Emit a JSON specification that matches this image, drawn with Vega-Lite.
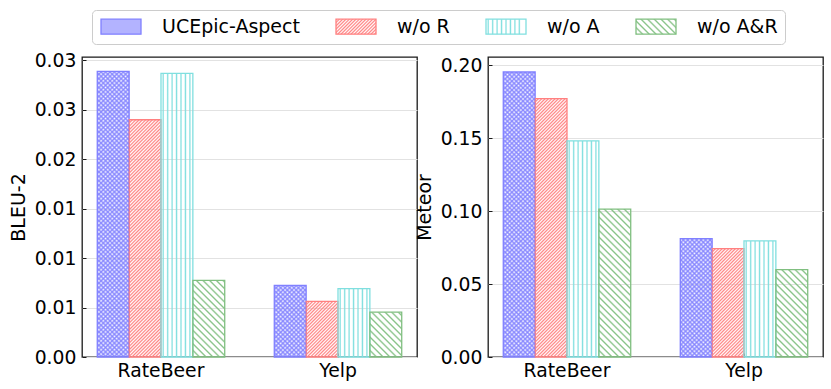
{
"$schema": "https://vega.github.io/schema/vega-lite/v6.json",
"background": "white",
"padding": {"left": 8, "top": 9, "right": 4, "bottom": 4},
"params": [
{"name": "redStops", "value": [
{"offset":0,"color":"#ff8080"},{"offset":0.005,"color":"#ff808000"},{"offset":0.01,"color":"#ff8080"},{"offset":0.015,"color":"#ff808000"},{"offset":0.02,"color":"#ff8080"},{"offset":0.025,"color":"#ff808000"},{"offset":0.03,"color":"#ff8080"},{"offset":0.035,"color":"#ff808000"},{"offset":0.04,"color":"#ff8080"},{"offset":0.045,"color":"#ff808000"},
{"offset":0.05,"color":"#ff8080"},{"offset":0.055,"color":"#ff808000"},{"offset":0.06,"color":"#ff8080"},{"offset":0.065,"color":"#ff808000"},{"offset":0.07,"color":"#ff8080"},{"offset":0.075,"color":"#ff808000"},{"offset":0.08,"color":"#ff8080"},{"offset":0.085,"color":"#ff808000"},{"offset":0.09,"color":"#ff8080"},{"offset":0.095,"color":"#ff808000"},
{"offset":0.1,"color":"#ff8080"},{"offset":0.105,"color":"#ff808000"},{"offset":0.11,"color":"#ff8080"},{"offset":0.115,"color":"#ff808000"},{"offset":0.12,"color":"#ff8080"},{"offset":0.125,"color":"#ff808000"},{"offset":0.13,"color":"#ff8080"},{"offset":0.135,"color":"#ff808000"},{"offset":0.14,"color":"#ff8080"},{"offset":0.145,"color":"#ff808000"},
{"offset":0.15,"color":"#ff8080"},{"offset":0.155,"color":"#ff808000"},{"offset":0.16,"color":"#ff8080"},{"offset":0.165,"color":"#ff808000"},{"offset":0.17,"color":"#ff8080"},{"offset":0.175,"color":"#ff808000"},{"offset":0.18,"color":"#ff8080"},{"offset":0.185,"color":"#ff808000"},{"offset":0.19,"color":"#ff8080"},{"offset":0.195,"color":"#ff808000"},
{"offset":0.2,"color":"#ff8080"},{"offset":0.205,"color":"#ff808000"},{"offset":0.21,"color":"#ff8080"},{"offset":0.215,"color":"#ff808000"},{"offset":0.22,"color":"#ff8080"},{"offset":0.225,"color":"#ff808000"},{"offset":0.23,"color":"#ff8080"},{"offset":0.235,"color":"#ff808000"},{"offset":0.24,"color":"#ff8080"},{"offset":0.245,"color":"#ff808000"},
{"offset":0.25,"color":"#ff8080"},{"offset":0.255,"color":"#ff808000"},{"offset":0.26,"color":"#ff8080"},{"offset":0.265,"color":"#ff808000"},{"offset":0.27,"color":"#ff8080"},{"offset":0.275,"color":"#ff808000"},{"offset":0.28,"color":"#ff8080"},{"offset":0.285,"color":"#ff808000"},{"offset":0.29,"color":"#ff8080"},{"offset":0.295,"color":"#ff808000"},
{"offset":0.3,"color":"#ff8080"},{"offset":0.305,"color":"#ff808000"},{"offset":0.31,"color":"#ff8080"},{"offset":0.315,"color":"#ff808000"},{"offset":0.32,"color":"#ff8080"},{"offset":0.325,"color":"#ff808000"},{"offset":0.33,"color":"#ff8080"},{"offset":0.335,"color":"#ff808000"},{"offset":0.34,"color":"#ff8080"},{"offset":0.345,"color":"#ff808000"},
{"offset":0.35,"color":"#ff8080"},{"offset":0.355,"color":"#ff808000"},{"offset":0.36,"color":"#ff8080"},{"offset":0.365,"color":"#ff808000"},{"offset":0.37,"color":"#ff8080"},{"offset":0.375,"color":"#ff808000"},{"offset":0.38,"color":"#ff8080"},{"offset":0.385,"color":"#ff808000"},{"offset":0.39,"color":"#ff8080"},{"offset":0.395,"color":"#ff808000"},
{"offset":0.4,"color":"#ff8080"},{"offset":0.405,"color":"#ff808000"},{"offset":0.41,"color":"#ff8080"},{"offset":0.415,"color":"#ff808000"},{"offset":0.42,"color":"#ff8080"},{"offset":0.425,"color":"#ff808000"},{"offset":0.43,"color":"#ff8080"},{"offset":0.435,"color":"#ff808000"},{"offset":0.44,"color":"#ff8080"},{"offset":0.445,"color":"#ff808000"},
{"offset":0.45,"color":"#ff8080"},{"offset":0.455,"color":"#ff808000"},{"offset":0.46,"color":"#ff8080"},{"offset":0.465,"color":"#ff808000"},{"offset":0.47,"color":"#ff8080"},{"offset":0.475,"color":"#ff808000"},{"offset":0.48,"color":"#ff8080"},{"offset":0.485,"color":"#ff808000"},{"offset":0.49,"color":"#ff8080"},{"offset":0.495,"color":"#ff808000"},
{"offset":0.5,"color":"#ff8080"},{"offset":0.505,"color":"#ff808000"},{"offset":0.51,"color":"#ff8080"},{"offset":0.515,"color":"#ff808000"},{"offset":0.52,"color":"#ff8080"},{"offset":0.525,"color":"#ff808000"},{"offset":0.53,"color":"#ff8080"},{"offset":0.535,"color":"#ff808000"},{"offset":0.54,"color":"#ff8080"},{"offset":0.545,"color":"#ff808000"},
{"offset":0.55,"color":"#ff8080"},{"offset":0.555,"color":"#ff808000"},{"offset":0.56,"color":"#ff8080"},{"offset":0.565,"color":"#ff808000"},{"offset":0.57,"color":"#ff8080"},{"offset":0.575,"color":"#ff808000"},{"offset":0.58,"color":"#ff8080"},{"offset":0.585,"color":"#ff808000"},{"offset":0.59,"color":"#ff8080"},{"offset":0.595,"color":"#ff808000"},
{"offset":0.6,"color":"#ff8080"},{"offset":0.605,"color":"#ff808000"},{"offset":0.61,"color":"#ff8080"},{"offset":0.615,"color":"#ff808000"},{"offset":0.62,"color":"#ff8080"},{"offset":0.625,"color":"#ff808000"},{"offset":0.63,"color":"#ff8080"},{"offset":0.635,"color":"#ff808000"},{"offset":0.64,"color":"#ff8080"},{"offset":0.645,"color":"#ff808000"},
{"offset":0.65,"color":"#ff8080"},{"offset":0.655,"color":"#ff808000"},{"offset":0.66,"color":"#ff8080"},{"offset":0.665,"color":"#ff808000"},{"offset":0.67,"color":"#ff8080"},{"offset":0.675,"color":"#ff808000"},{"offset":0.68,"color":"#ff8080"},{"offset":0.685,"color":"#ff808000"},{"offset":0.69,"color":"#ff8080"},{"offset":0.695,"color":"#ff808000"},
{"offset":0.7,"color":"#ff8080"},{"offset":0.705,"color":"#ff808000"},{"offset":0.71,"color":"#ff8080"},{"offset":0.715,"color":"#ff808000"},{"offset":0.72,"color":"#ff8080"},{"offset":0.725,"color":"#ff808000"},{"offset":0.73,"color":"#ff8080"},{"offset":0.735,"color":"#ff808000"},{"offset":0.74,"color":"#ff8080"},{"offset":0.745,"color":"#ff808000"},
{"offset":0.75,"color":"#ff8080"},{"offset":0.755,"color":"#ff808000"},{"offset":0.76,"color":"#ff8080"},{"offset":0.765,"color":"#ff808000"},{"offset":0.77,"color":"#ff8080"},{"offset":0.775,"color":"#ff808000"},{"offset":0.78,"color":"#ff8080"},{"offset":0.785,"color":"#ff808000"},{"offset":0.79,"color":"#ff8080"},{"offset":0.795,"color":"#ff808000"},
{"offset":0.8,"color":"#ff8080"},{"offset":0.805,"color":"#ff808000"},{"offset":0.81,"color":"#ff8080"},{"offset":0.815,"color":"#ff808000"},{"offset":0.82,"color":"#ff8080"},{"offset":0.825,"color":"#ff808000"},{"offset":0.83,"color":"#ff8080"},{"offset":0.835,"color":"#ff808000"},{"offset":0.84,"color":"#ff8080"},{"offset":0.845,"color":"#ff808000"},
{"offset":0.85,"color":"#ff8080"},{"offset":0.855,"color":"#ff808000"},{"offset":0.86,"color":"#ff8080"},{"offset":0.865,"color":"#ff808000"},{"offset":0.87,"color":"#ff8080"},{"offset":0.875,"color":"#ff808000"},{"offset":0.88,"color":"#ff8080"}
]},
{"name": "blueStops", "value": [
{"offset":0,"color":"#8080ffd9"},{"offset":0.005,"color":"#8080ff00"},{"offset":0.01,"color":"#8080ffd9"},{"offset":0.015,"color":"#8080ff00"},{"offset":0.02,"color":"#8080ffd9"},{"offset":0.025,"color":"#8080ff00"},{"offset":0.03,"color":"#8080ffd9"},{"offset":0.035,"color":"#8080ff00"},{"offset":0.04,"color":"#8080ffd9"},{"offset":0.045,"color":"#8080ff00"},
{"offset":0.05,"color":"#8080ffd9"},{"offset":0.055,"color":"#8080ff00"},{"offset":0.06,"color":"#8080ffd9"},{"offset":0.065,"color":"#8080ff00"},{"offset":0.07,"color":"#8080ffd9"},{"offset":0.075,"color":"#8080ff00"},{"offset":0.08,"color":"#8080ffd9"},{"offset":0.085,"color":"#8080ff00"},{"offset":0.09,"color":"#8080ffd9"},{"offset":0.095,"color":"#8080ff00"},
{"offset":0.1,"color":"#8080ffd9"},{"offset":0.105,"color":"#8080ff00"},{"offset":0.11,"color":"#8080ffd9"},{"offset":0.115,"color":"#8080ff00"},{"offset":0.12,"color":"#8080ffd9"},{"offset":0.125,"color":"#8080ff00"},{"offset":0.13,"color":"#8080ffd9"},{"offset":0.135,"color":"#8080ff00"},{"offset":0.14,"color":"#8080ffd9"},{"offset":0.145,"color":"#8080ff00"},
{"offset":0.15,"color":"#8080ffd9"},{"offset":0.155,"color":"#8080ff00"},{"offset":0.16,"color":"#8080ffd9"},{"offset":0.165,"color":"#8080ff00"},{"offset":0.17,"color":"#8080ffd9"},{"offset":0.175,"color":"#8080ff00"},{"offset":0.18,"color":"#8080ffd9"},{"offset":0.185,"color":"#8080ff00"},{"offset":0.19,"color":"#8080ffd9"},{"offset":0.195,"color":"#8080ff00"},
{"offset":0.2,"color":"#8080ffd9"},{"offset":0.205,"color":"#8080ff00"},{"offset":0.21,"color":"#8080ffd9"},{"offset":0.215,"color":"#8080ff00"},{"offset":0.22,"color":"#8080ffd9"},{"offset":0.225,"color":"#8080ff00"},{"offset":0.23,"color":"#8080ffd9"},{"offset":0.235,"color":"#8080ff00"},{"offset":0.24,"color":"#8080ffd9"},{"offset":0.245,"color":"#8080ff00"},
{"offset":0.25,"color":"#8080ffd9"},{"offset":0.255,"color":"#8080ff00"},{"offset":0.26,"color":"#8080ffd9"},{"offset":0.265,"color":"#8080ff00"},{"offset":0.27,"color":"#8080ffd9"},{"offset":0.275,"color":"#8080ff00"},{"offset":0.28,"color":"#8080ffd9"},{"offset":0.285,"color":"#8080ff00"},{"offset":0.29,"color":"#8080ffd9"},{"offset":0.295,"color":"#8080ff00"},
{"offset":0.3,"color":"#8080ffd9"},{"offset":0.305,"color":"#8080ff00"},{"offset":0.31,"color":"#8080ffd9"},{"offset":0.315,"color":"#8080ff00"},{"offset":0.32,"color":"#8080ffd9"},{"offset":0.325,"color":"#8080ff00"},{"offset":0.33,"color":"#8080ffd9"},{"offset":0.335,"color":"#8080ff00"},{"offset":0.34,"color":"#8080ffd9"},{"offset":0.345,"color":"#8080ff00"},
{"offset":0.35,"color":"#8080ffd9"},{"offset":0.355,"color":"#8080ff00"},{"offset":0.36,"color":"#8080ffd9"},{"offset":0.365,"color":"#8080ff00"},{"offset":0.37,"color":"#8080ffd9"},{"offset":0.375,"color":"#8080ff00"},{"offset":0.38,"color":"#8080ffd9"},{"offset":0.385,"color":"#8080ff00"},{"offset":0.39,"color":"#8080ffd9"},{"offset":0.395,"color":"#8080ff00"},
{"offset":0.4,"color":"#8080ffd9"},{"offset":0.405,"color":"#8080ff00"},{"offset":0.41,"color":"#8080ffd9"},{"offset":0.415,"color":"#8080ff00"},{"offset":0.42,"color":"#8080ffd9"},{"offset":0.425,"color":"#8080ff00"},{"offset":0.43,"color":"#8080ffd9"},{"offset":0.435,"color":"#8080ff00"},{"offset":0.44,"color":"#8080ffd9"},{"offset":0.445,"color":"#8080ff00"},
{"offset":0.45,"color":"#8080ffd9"},{"offset":0.455,"color":"#8080ff00"},{"offset":0.46,"color":"#8080ffd9"},{"offset":0.465,"color":"#8080ff00"},{"offset":0.47,"color":"#8080ffd9"},{"offset":0.475,"color":"#8080ff00"},{"offset":0.48,"color":"#8080ffd9"},{"offset":0.485,"color":"#8080ff00"},{"offset":0.49,"color":"#8080ffd9"},{"offset":0.495,"color":"#8080ff00"},
{"offset":0.5,"color":"#8080ffd9"},{"offset":0.505,"color":"#8080ff00"},{"offset":0.51,"color":"#8080ffd9"},{"offset":0.515,"color":"#8080ff00"},{"offset":0.52,"color":"#8080ffd9"},{"offset":0.525,"color":"#8080ff00"},{"offset":0.53,"color":"#8080ffd9"},{"offset":0.535,"color":"#8080ff00"},{"offset":0.54,"color":"#8080ffd9"},{"offset":0.545,"color":"#8080ff00"},
{"offset":0.55,"color":"#8080ffd9"},{"offset":0.555,"color":"#8080ff00"},{"offset":0.56,"color":"#8080ffd9"},{"offset":0.565,"color":"#8080ff00"},{"offset":0.57,"color":"#8080ffd9"},{"offset":0.575,"color":"#8080ff00"},{"offset":0.58,"color":"#8080ffd9"},{"offset":0.585,"color":"#8080ff00"},{"offset":0.59,"color":"#8080ffd9"},{"offset":0.595,"color":"#8080ff00"},
{"offset":0.6,"color":"#8080ffd9"},{"offset":0.605,"color":"#8080ff00"},{"offset":0.61,"color":"#8080ffd9"},{"offset":0.615,"color":"#8080ff00"},{"offset":0.62,"color":"#8080ffd9"},{"offset":0.625,"color":"#8080ff00"},{"offset":0.63,"color":"#8080ffd9"},{"offset":0.635,"color":"#8080ff00"},{"offset":0.64,"color":"#8080ffd9"},{"offset":0.645,"color":"#8080ff00"},
{"offset":0.65,"color":"#8080ffd9"},{"offset":0.655,"color":"#8080ff00"},{"offset":0.66,"color":"#8080ffd9"},{"offset":0.665,"color":"#8080ff00"},{"offset":0.67,"color":"#8080ffd9"},{"offset":0.675,"color":"#8080ff00"},{"offset":0.68,"color":"#8080ffd9"},{"offset":0.685,"color":"#8080ff00"},{"offset":0.69,"color":"#8080ffd9"},{"offset":0.695,"color":"#8080ff00"},
{"offset":0.7,"color":"#8080ffd9"},{"offset":0.705,"color":"#8080ff00"},{"offset":0.71,"color":"#8080ffd9"},{"offset":0.715,"color":"#8080ff00"},{"offset":0.72,"color":"#8080ffd9"}
]},
{"name": "greenStops", "value": [
{"offset":0,"color":"#80bf80"},{"offset":0.0027,"color":"#80bf8000"},
{"offset":0.0073,"color":"#80bf8000"},{"offset":0.01,"color":"#80bf80"},{"offset":0.0127,"color":"#80bf8000"},
{"offset":0.0173,"color":"#80bf8000"},{"offset":0.02,"color":"#80bf80"},{"offset":0.0227,"color":"#80bf8000"},
{"offset":0.0273,"color":"#80bf8000"},{"offset":0.03,"color":"#80bf80"},{"offset":0.0327,"color":"#80bf8000"},
{"offset":0.0373,"color":"#80bf8000"},{"offset":0.04,"color":"#80bf80"},{"offset":0.0427,"color":"#80bf8000"},
{"offset":0.0473,"color":"#80bf8000"},{"offset":0.05,"color":"#80bf80"},{"offset":0.0527,"color":"#80bf8000"},
{"offset":0.0573,"color":"#80bf8000"},{"offset":0.06,"color":"#80bf80"},{"offset":0.0627,"color":"#80bf8000"},
{"offset":0.0673,"color":"#80bf8000"},{"offset":0.07,"color":"#80bf80"},{"offset":0.0727,"color":"#80bf8000"},
{"offset":0.0773,"color":"#80bf8000"},{"offset":0.08,"color":"#80bf80"},{"offset":0.0827,"color":"#80bf8000"},
{"offset":0.0873,"color":"#80bf8000"},{"offset":0.09,"color":"#80bf80"},{"offset":0.0927,"color":"#80bf8000"},
{"offset":0.0973,"color":"#80bf8000"},{"offset":0.1,"color":"#80bf80"},{"offset":0.1027,"color":"#80bf8000"},
{"offset":0.1073,"color":"#80bf8000"},{"offset":0.11,"color":"#80bf80"},{"offset":0.1127,"color":"#80bf8000"},
{"offset":0.1173,"color":"#80bf8000"},{"offset":0.12,"color":"#80bf80"},{"offset":0.1227,"color":"#80bf8000"},
{"offset":0.1273,"color":"#80bf8000"},{"offset":0.13,"color":"#80bf80"},{"offset":0.1327,"color":"#80bf8000"},
{"offset":0.1373,"color":"#80bf8000"},{"offset":0.14,"color":"#80bf80"},{"offset":0.1427,"color":"#80bf8000"},
{"offset":0.1473,"color":"#80bf8000"},{"offset":0.15,"color":"#80bf80"},{"offset":0.1527,"color":"#80bf8000"},
{"offset":0.1573,"color":"#80bf8000"},{"offset":0.16,"color":"#80bf80"},{"offset":0.1627,"color":"#80bf8000"},
{"offset":0.1673,"color":"#80bf8000"},{"offset":0.17,"color":"#80bf80"},{"offset":0.1727,"color":"#80bf8000"},
{"offset":0.1773,"color":"#80bf8000"},{"offset":0.18,"color":"#80bf80"},{"offset":0.1827,"color":"#80bf8000"},
{"offset":0.1873,"color":"#80bf8000"},{"offset":0.19,"color":"#80bf80"},{"offset":0.1927,"color":"#80bf8000"},
{"offset":0.1973,"color":"#80bf8000"},{"offset":0.2,"color":"#80bf80"},{"offset":0.2027,"color":"#80bf8000"},
{"offset":0.2073,"color":"#80bf8000"},{"offset":0.21,"color":"#80bf80"},{"offset":0.2127,"color":"#80bf8000"},
{"offset":0.2173,"color":"#80bf8000"},{"offset":0.22,"color":"#80bf80"},{"offset":0.2227,"color":"#80bf8000"},
{"offset":0.2273,"color":"#80bf8000"},{"offset":0.23,"color":"#80bf80"},{"offset":0.2327,"color":"#80bf8000"},
{"offset":0.2373,"color":"#80bf8000"},{"offset":0.24,"color":"#80bf80"},{"offset":0.2427,"color":"#80bf8000"},
{"offset":0.2473,"color":"#80bf8000"},{"offset":0.25,"color":"#80bf80"},{"offset":0.2527,"color":"#80bf8000"},
{"offset":0.2573,"color":"#80bf8000"},{"offset":0.26,"color":"#80bf80"},{"offset":0.2627,"color":"#80bf8000"},
{"offset":0.2673,"color":"#80bf8000"},{"offset":0.27,"color":"#80bf80"},{"offset":0.2727,"color":"#80bf8000"},
{"offset":0.2773,"color":"#80bf8000"},{"offset":0.28,"color":"#80bf80"},{"offset":0.2827,"color":"#80bf8000"}
]},
{"name": "cyanStops", "value": [
{"offset":0,"color":"#80dfdf00"},
{"offset":0.021,"color":"#80dfdf00"},{"offset":0.05,"color":"#80dfdf"},{"offset":0.079,"color":"#80dfdf00"},
{"offset":0.121,"color":"#80dfdf00"},{"offset":0.15,"color":"#80dfdf"},{"offset":0.179,"color":"#80dfdf00"},
{"offset":0.221,"color":"#80dfdf00"},{"offset":0.25,"color":"#80dfdf"},{"offset":0.279,"color":"#80dfdf00"},
{"offset":0.321,"color":"#80dfdf00"},{"offset":0.35,"color":"#80dfdf"},{"offset":0.379,"color":"#80dfdf00"},
{"offset":0.421,"color":"#80dfdf00"},{"offset":0.45,"color":"#80dfdf"},{"offset":0.479,"color":"#80dfdf00"},
{"offset":0.521,"color":"#80dfdf00"},{"offset":0.55,"color":"#80dfdf"},{"offset":0.579,"color":"#80dfdf00"},
{"offset":0.621,"color":"#80dfdf00"},{"offset":0.65,"color":"#80dfdf"},{"offset":0.679,"color":"#80dfdf00"},
{"offset":0.721,"color":"#80dfdf00"},{"offset":0.75,"color":"#80dfdf"},{"offset":0.779,"color":"#80dfdf00"}
]}
],
"data": {"values": [
{"metric":"BLEU-2","dataset":"RateBeer","series":"UCEpic-Aspect","value":0.0289},
{"metric":"BLEU-2","dataset":"RateBeer","series":"w/o R","value":0.0240},
{"metric":"BLEU-2","dataset":"RateBeer","series":"w/o A","value":0.0287},
{"metric":"BLEU-2","dataset":"RateBeer","series":"w/o A&R","value":0.00776},
{"metric":"BLEU-2","dataset":"Yelp","series":"UCEpic-Aspect","value":0.00725},
{"metric":"BLEU-2","dataset":"Yelp","series":"w/o R","value":0.00563},
{"metric":"BLEU-2","dataset":"Yelp","series":"w/o A","value":0.00691},
{"metric":"BLEU-2","dataset":"Yelp","series":"w/o A&R","value":0.00453},
{"metric":"Meteor","dataset":"RateBeer","series":"UCEpic-Aspect","value":0.1955},
{"metric":"Meteor","dataset":"RateBeer","series":"w/o R","value":0.1772},
{"metric":"Meteor","dataset":"RateBeer","series":"w/o A","value":0.1482},
{"metric":"Meteor","dataset":"RateBeer","series":"w/o A&R","value":0.1015},
{"metric":"Meteor","dataset":"Yelp","series":"UCEpic-Aspect","value":0.0812},
{"metric":"Meteor","dataset":"Yelp","series":"w/o R","value":0.0743},
{"metric":"Meteor","dataset":"Yelp","series":"w/o A","value":0.0796},
{"metric":"Meteor","dataset":"Yelp","series":"w/o A&R","value":0.0599}
]},
"config": {
"font": "DejaVu Sans",
"view": {"stroke": "#1a1a1a", "strokeWidth": 1.3},
"axis": {"labelFont": "DejaVu Sans", "labelFontSize": 18.8, "labelColor": "#000000", "titleFont": "DejaVu Sans", "titleFontSize": 19, "titleFontWeight": "normal", "titleColor": "#000000", "domain": false, "ticks": true, "tickSize": -4, "tickColor": "#1a1a1a", "tickWidth": 1, "gridColor": "#e2e2e2", "gridWidth": 1, "zindex": 1}
},
"spacing": -4,
"resolve": {"scale": {"xOffset": "independent"}},
"hconcat": [
{
"width": 335, "height": 300,
"transform": [{"filter": "datum.metric == 'BLEU-2'"}],
"encoding": {
"x": {"field": "dataset", "type": "nominal", "sort": ["RateBeer", "Yelp"], "scale": {"paddingInner": 0.28, "paddingOuter": 0.0863}, "axis": {"title": null, "labelAngle": 0, "bandPosition": 0.5, "labelPadding": 8}},
"xOffset": {"field": "series", "type": "nominal", "scale": {"domain": ["UCEpic-Aspect", "w/o R", "w/o A", "w/o A&R"], "paddingInner": 0, "paddingOuter": 0}},
"y": {"field": "value", "type": "quantitative", "scale": {"domain": [0, 0.03035], "nice": false, "zero": true}, "axis": {"title": "BLEU-2", "values": [0, 0.005, 0.01, 0.015, 0.02, 0.025, 0.03], "format": ".2f", "labelPadding": 10, "titlePadding": 6}}
},
"layer": [
{
"mark": {"type": "bar", "strokeWidth": 1.3, "fill": {"expr": "!datum.series ? (datum.value=='w/o R' ? {gradient:'linear',x1:0,y1:0,x2:7.306,y2:2.74,stops:redStops} : datum.value=='w/o A' ? {gradient:'linear',x1:0,y1:0,x2:1.111,y2:0,stops:cyanStops} : datum.value=='w/o A&R' ? {gradient:'linear',x1:0,y1:1,x2:14.612,y2:-4.479,stops:greenStops} : '#8080ff99') : datum.series=='w/o A' ? {gradient:'linear',x1:0,y1:0,x2:1.395,y2:0,stops:cyanStops} : datum.series=='w/o R' ? {gradient:'linear',x1:0,y1:0,x2:10620/(1015.1+pow(datum.value*9884.7,2)),y2:333.33*datum.value*9884.7/(1015.1+pow(datum.value*9884.7,2)),stops:redStops} : datum.series=='w/o A&R' ? {gradient:'linear',x1:0,y1:1,x2:21240/(1015.1+pow(datum.value*9884.7,2)),y2:1-666.67*datum.value*9884.7/(1015.1+pow(datum.value*9884.7,2)),stops:greenStops} : {gradient:'linear',x1:0,y1:0,x2:14160/(1015.1+pow(datum.value*9884.7,2)),y2:444.44*datum.value*9884.7/(1015.1+pow(datum.value*9884.7,2)),stops:blueStops}"}},
"encoding": {
"stroke": {"field": "series", "type": "nominal", "scale": {"domain": ["UCEpic-Aspect", "w/o R", "w/o A", "w/o A&R"], "range": ["#8080ff", "#ff8080", "#80dfdf", "#80bf80"]},
"legend": {"title": null, "orient": "none", "legendX": 10, "legendY": -47, "direction": "horizontal", "symbolType": "M-2.6667,-1H2.6667V1H-2.6667Z", "symbolSize": 225, "symbolOffset": 12.5, "symbolStrokeWidth": 1.3, "labelFont": "DejaVu Sans", "labelFontSize": 19, "labelColor": "#000000", "labelOffset": 31.5, "labelLimit": 400, "columnPadding": 33, "padding": 7, "strokeColor": "#cccccc", "fillColor": "#ffffff", "cornerRadius": 4}}
}
},
{
"transform": [{"filter": "datum.series == 'UCEpic-Aspect'"}],
"mark": {"type": "bar", "strokeWidth": 0, "fill": {"expr": "{gradient:'linear',x1:0,y1:1,x2:14160/(1015.1+pow(datum.value*9884.7,2)),y2:1-444.44*datum.value*9884.7/(1015.1+pow(datum.value*9884.7,2)),stops:blueStops}"}}
}
]
},
{
"width": 335, "height": 300,
"transform": [{"filter": "datum.metric == 'Meteor'"}],
"encoding": {
"x": {"field": "dataset", "type": "nominal", "sort": ["RateBeer", "Yelp"], "scale": {"paddingInner": 0.28, "paddingOuter": 0.0863}, "axis": {"title": null, "labelAngle": 0, "bandPosition": 0.5, "labelPadding": 8}},
"xOffset": {"field": "series", "type": "nominal", "scale": {"domain": ["UCEpic-Aspect", "w/o R", "w/o A", "w/o A&R"], "paddingInner": 0, "paddingOuter": 0}},
"y": {"field": "value", "type": "quantitative", "scale": {"domain": [0, 0.2058], "nice": false, "zero": true}, "axis": {"title": "Meteor", "values": [0, 0.05, 0.1, 0.15, 0.2], "format": ".2f", "labelPadding": 10, "titlePadding": 6}}
},
"layer": [
{
"mark": {"type": "bar", "strokeWidth": 1.3, "fill": {"expr": "!datum.series ? (datum.value=='w/o R' ? {gradient:'linear',x1:0,y1:0,x2:7.306,y2:2.74,stops:redStops} : datum.value=='w/o A' ? {gradient:'linear',x1:0,y1:0,x2:1.111,y2:0,stops:cyanStops} : datum.value=='w/o A&R' ? {gradient:'linear',x1:0,y1:1,x2:14.612,y2:-4.479,stops:greenStops} : '#8080ff99') : datum.series=='w/o A' ? {gradient:'linear',x1:0,y1:0,x2:1.395,y2:0,stops:cyanStops} : datum.series=='w/o R' ? {gradient:'linear',x1:0,y1:0,x2:10620/(1015.1+pow(datum.value*1457.7,2)),y2:333.33*datum.value*1457.7/(1015.1+pow(datum.value*1457.7,2)),stops:redStops} : datum.series=='w/o A&R' ? {gradient:'linear',x1:0,y1:1,x2:21240/(1015.1+pow(datum.value*1457.7,2)),y2:1-666.67*datum.value*1457.7/(1015.1+pow(datum.value*1457.7,2)),stops:greenStops} : {gradient:'linear',x1:0,y1:0,x2:14160/(1015.1+pow(datum.value*1457.7,2)),y2:444.44*datum.value*1457.7/(1015.1+pow(datum.value*1457.7,2)),stops:blueStops}"}},
"encoding": {
"stroke": {"field": "series", "type": "nominal", "scale": {"domain": ["UCEpic-Aspect", "w/o R", "w/o A", "w/o A&R"], "range": ["#8080ff", "#ff8080", "#80dfdf", "#80bf80"]},
"legend": {"title": null, "orient": "none", "legendX": 10, "legendY": -47, "direction": "horizontal", "symbolType": "M-2.6667,-1H2.6667V1H-2.6667Z", "symbolSize": 225, "symbolOffset": 12.5, "symbolStrokeWidth": 1.3, "labelFont": "DejaVu Sans", "labelFontSize": 19, "labelColor": "#000000", "labelOffset": 31.5, "labelLimit": 400, "columnPadding": 33, "padding": 7, "strokeColor": "#cccccc", "fillColor": "#ffffff", "cornerRadius": 4}}
}
},
{
"transform": [{"filter": "datum.series == 'UCEpic-Aspect'"}],
"mark": {"type": "bar", "strokeWidth": 0, "fill": {"expr": "{gradient:'linear',x1:0,y1:1,x2:14160/(1015.1+pow(datum.value*1457.7,2)),y2:1-444.44*datum.value*1457.7/(1015.1+pow(datum.value*1457.7,2)),stops:blueStops}"}}
}
]
}
]
}
